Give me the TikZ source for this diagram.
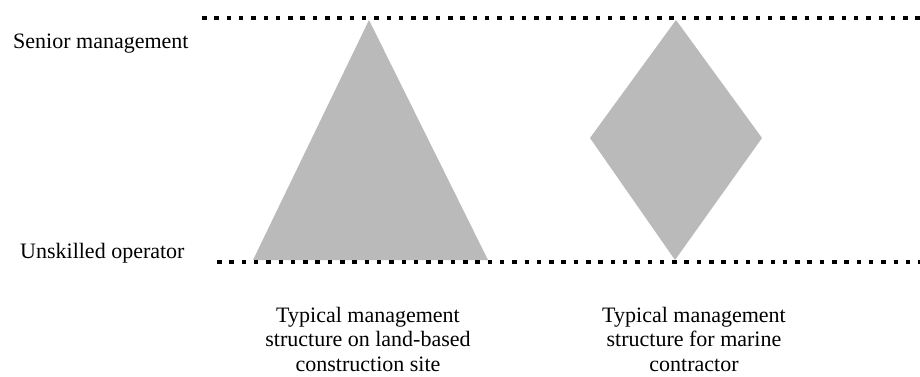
\documentclass[tikz,border=0pt]{standalone}
\usepackage{fontspec}
\setmainfont{Liberation Serif}

\tikzstyle{levelline} = [draw, line width=4.5pt, dash pattern=on 4.5pt off 7.8pt]
\tikzstyle{structure} = [fill=black!27, draw=none]
\tikzstyle{txt} = [inner sep=0pt, font=\fontsize{22}{24.5}\selectfont]

\begin{document}
\begin{tikzpicture}[x=1pt, y=-1pt]
	    \useasboundingbox (0,0) rectangle (920,376);
	    % structures
	    \path[structure] (369,20) -- (488,260) -- (253,260) -- cycle;
	    \path[structure] (676,20) -- (762,138) -- (675,260) -- (590,138) -- cycle;
	    % levels
	    \coordinate (topL) at (202,18);
	    \coordinate (topR) at (920,18);
	    \coordinate (botL) at (217,262);
	    \coordinate (botR) at (920,262);
	    \path[levelline] (topL) -- (topR);
	    \path[levelline] (botL) -- (botR);
	    \foreach \pos/\name/\lbl in {{(13,48)/senior/Senior management}, {(20,258)/unskilled/Unskilled operator}}
	        \node[txt, anchor=base west] (\name) at \pos {\lbl};
	    \node[txt, anchor=base, align=center] (land) at (368,371) {Typical management\\structure on land-based\\construction site};
	    \node[txt, anchor=base, align=center] (marine) at (694,371) {Typical management\\structure for marine\\contractor};
	\end{tikzpicture}
\end{document}
